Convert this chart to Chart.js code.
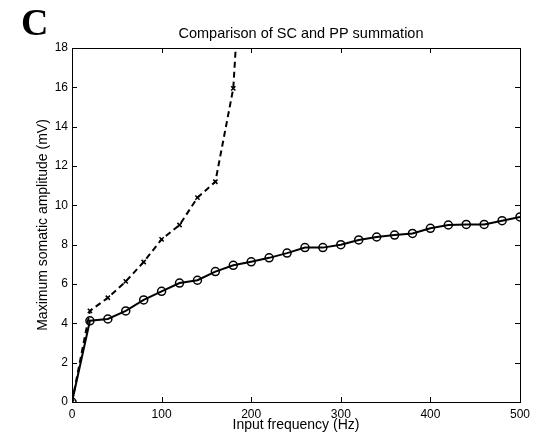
<!DOCTYPE html>
<html>
<head>
<meta charset="utf-8">
<script src="https://cdn.jsdelivr.net/npm/chart.js@4/dist/chart.umd.min.js"></script>
<style>
  body { margin: 0; background: #fff; }
  canvas { display: block; }
</style>
</head>
<body>
<canvas id="chart" width="543" height="438"></canvas>
<script>
// data
const solidFreqs = [0, 20, 40, 60, 80, 100, 120, 140, 160, 180, 200, 220, 240, 260, 280, 300, 320, 340, 360, 380, 400, 420, 440, 460, 480, 500];
const solidVals = [0, 4.13, 4.22, 4.63, 5.19, 5.63, 6.05, 6.19, 6.63, 6.95, 7.13, 7.33, 7.57, 7.85, 7.85, 8.0, 8.24, 8.39, 8.49, 8.57, 8.83, 9.0, 9.03, 9.03, 9.22, 9.41];
const dashedFreqs = [0, 20, 40, 60, 80, 100, 120, 140, 160, 180, 200];
const dashedVals = [0, 4.63, 5.3, 6.13, 7.12, 8.27, 9.0, 10.39, 11.2, 15.95, 31];
const xTicks = [0, 100, 200, 300, 400, 500];
const yTicks = [0, 2, 4, 6, 8, 10, 12, 14, 16, 18];

const titleText = 'Comparison of SC and PP summation';
const FONT = '"Liberation Sans", Arial, Helvetica, sans-serif';

function toPoints(xs, ys) {
    return xs.map((x, i) => ({ x: x, y: ys[i] }));
}

// matlab style box with inward ticks, plus title and panel letter
const boxPlugin = {
    id: 'box',
    afterDraw(chart) {
        const { ctx, chartArea: a, scales } = chart;
        const len = 5;
        ctx.save();
        ctx.strokeStyle = '#000';
        ctx.lineWidth = 1;
        ctx.strokeRect(a.left + 0.5, a.top + 0.5, a.right - a.left, a.bottom - a.top);
        ctx.beginPath();
        xTicks.forEach(v => {
            const px = Math.round(scales.x.getPixelForValue(v)) + 0.5;
            ctx.moveTo(px, a.bottom); ctx.lineTo(px, a.bottom - len);
            ctx.moveTo(px, a.top); ctx.lineTo(px, a.top + len);
        });
        yTicks.forEach(v => {
            const py = Math.round(scales.y.getPixelForValue(v)) + 0.5;
            ctx.moveTo(a.left, py); ctx.lineTo(a.left + len, py);
            ctx.moveTo(a.right, py); ctx.lineTo(a.right - len, py);
        });
        ctx.stroke();

        ctx.fillStyle = '#000';
        ctx.textAlign = 'center';
        ctx.textBaseline = 'middle';
        ctx.font = '14.5px ' + FONT;
        ctx.fillText(titleText, (a.left + a.right) / 2 + 5, 34);

        ctx.font = 'bold 38px "Liberation Serif", "Times New Roman", serif';
        ctx.textAlign = 'left';
        ctx.textBaseline = 'alphabetic';
        ctx.fillText('C', 21, 35);
        ctx.restore();
    }
};

new Chart(document.getElementById('chart'), {
    type: 'scatter',
    data: {
        datasets: [
            {
                label: 'solid',
                data: toPoints(solidFreqs, solidVals),
                showLine: true,
                borderColor: '#000',
                borderWidth: 2,
                pointStyle: 'circle',
                pointRadius: 4,
                pointBorderWidth: 1.5,
                pointBorderColor: '#000',
                pointBackgroundColor: 'rgba(0,0,0,0)'
            },
            {
                label: 'dashed',
                data: toPoints(dashedFreqs, dashedVals),
                showLine: true,
                borderColor: '#000',
                borderWidth: 2,
                borderDash: [6, 4],
                pointStyle: 'crossRot',
                pointRadius: 3,
                pointBorderWidth: 1.5,
                pointBorderColor: '#000'
            }
        ]
    },
    options: {
        responsive: false,
        animation: false,
        devicePixelRatio: 1,
        layout: { padding: { top: 48, right: 23, left: 0, bottom: 0 } },
        plugins: {
            legend: { display: false },
            tooltip: { enabled: false }
        },
        scales: {
            x: {
                type: 'linear',
                min: 0,
                max: 500,
                afterFit(scale) { scale.height = 36; },
                afterBuildTicks(scale) { scale.ticks = xTicks.map(v => ({ value: v })); },
                grid: { display: false, drawTicks: false },
                border: { display: false },
                ticks: { color: '#000', padding: 5, maxRotation: 0, font: { family: FONT, size: 12 } },
                title: {
                    display: true,
                    text: 'Input frequency (Hz)',
                    color: '#000',
                    font: { family: FONT, size: 14 },
                    padding: { top: 0, bottom: 4 }
                }
            },
            y: {
                min: 0,
                max: 18,
                afterFit(scale) { scale.width = 72; },
                afterBuildTicks(scale) { scale.ticks = yTicks.map(v => ({ value: v })); },
                grid: { display: false, drawTicks: false },
                border: { display: false },
                ticks: { color: '#000', padding: 4, font: { family: FONT, size: 12 } },
                title: {
                    display: true,
                    text: 'Maximum somatic amplitude (mV)',
                    color: '#000',
                    font: { family: FONT, size: 14 },
                    padding: { top: 35, bottom: 0 }
                }
            }
        }
    },
    plugins: [boxPlugin]
});
</script>
</body>
</html>
